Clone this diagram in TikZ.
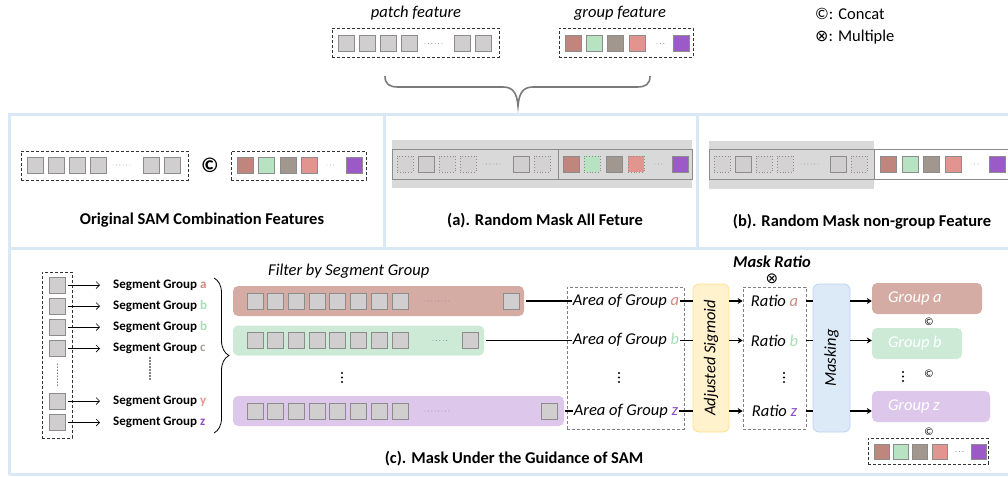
\documentclass[tikz,border=0pt]{standalone}
\usepackage{fontspec}
\setmainfont{Carlito}
\newfontfamily\symfont{DejaVu Sans}
\usetikzlibrary{arrows.meta,decorations.pathreplacing}

\definecolor{sqfill}{HTML}{D0CECE}
\definecolor{sqmask}{HTML}{D4D2D2}
\definecolor{sqline}{HTML}{8C8C8C}
\definecolor{cbrown}{HTML}{C0857C}
\definecolor{cgreen}{HTML}{B7E3C3}
\definecolor{ctaupe}{HTML}{A2978E}
\definecolor{csalmon}{HTML}{E2958E}
\definecolor{cpurple}{HTML}{9B5AC8}
\definecolor{rowbrown}{HTML}{D5ACA4}
\definecolor{rowgreen}{HTML}{CDEAD6}
\definecolor{rowpurple}{HTML}{DDC8EB}
\definecolor{frameblue}{HTML}{DAE7F5}
\definecolor{sigfill}{HTML}{FFF2CC}
\definecolor{sigline}{HTML}{FFE08A}
\definecolor{maskfill}{HTML}{DCE9F6}
\definecolor{maskline}{HTML}{BDD4EE}
\definecolor{band}{HTML}{D9D9D9}
\definecolor{bracegray}{HTML}{7A7A7A}
\definecolor{letA}{HTML}{CC8A80}
\definecolor{letB}{HTML}{A8DDB7}
\definecolor{letC}{HTML}{A89E96}
\definecolor{letY}{HTML}{E5958D}
\definecolor{letZ}{HTML}{8C4DC2}

\newcommand\fsz[1]{\fontsize{#1}{#1}\selectfont}
% one feature square: [style]{name}{x}{y}
\newcommand\fsq[4][]{\node[sq,#1] (#2) at (#3,#4) {};}
% a vertical ellipsis of three round dots centred at (x,y)
\newcommand\vdotsat[2]{\foreach \dy in {-4.5,0,4.5} \fill (#1,#2+\dy) circle (1.15pt);}

\begin{document}
\begin{tikzpicture}[x=1pt,y=-1pt,
  sq/.style={draw=sqline, fill=sqfill, line width=0.8pt, minimum size=16pt, inner sep=0pt},
  msq/.style={draw=black!45, dotted, fill=sqmask},
  dashbox/.style={draw=black!80, dash pattern=on 3pt off 2pt, line width=0.8pt, inner sep=0pt},
  graybox/.style={draw=black!50, dash pattern=on 3pt off 2pt, line width=0.7pt, inner sep=0pt},
  dotrow/.style={draw=black!50, line width=0.9pt, dash pattern=on 0pt off 3.4pt, line cap=round},
  frame/.style={draw=frameblue, line width=3pt},
  title/.style={font={\fsz{16.5}\bfseries}, inner sep=0pt},
  ital/.style={font={\fsz{16.5}\itshape}, inner sep=1pt},
  seglabel/.style={font={\fsz{13}\bfseries}, anchor=west, inner sep=0pt},
  rowbox/.style={rounded corners=5pt, minimum height=30pt, inner sep=0pt},
  grptext/.style={font={\fsz{16.5}\itshape}, text=white, anchor=west, inner sep=0pt},
  conn/.style={draw=black, line width=1.3pt},
  arr/.style={draw=black, line width=1.3pt, -{Stealth[length=5pt,width=6pt]}},
  thinarr/.style={draw=black, line width=0.7pt, -{Straight Barb[length=3.5pt,width=7pt]}},
  smallc/.style={font={\fsz{11}}, inner sep=0pt}
]
\useasboundingbox (0,0) rectangle (1008,476);
\clip (0,0) rectangle (1008,476);

% ---------------- top: the two kinds of features ----------------
\node[ital] (ptitle) at (416,13) {patch feature};
\node[ital] (gtitle) at (620,13) {group feature};
\node[dashbox, minimum width=167pt, minimum height=29pt] (tpbox) at (415.5,42.5) {};
\node[dashbox, minimum width=134pt, minimum height=29pt] (tgbox) at (626,42.5) {};
\fsq{tp1}{346}{43.5}\fsq{tp2}{367}{43.5}\fsq{tp3}{388}{43.5}\fsq{tp4}{409}{43.5}
\fsq{tp5}{462}{43.5}\fsq{tp6}{483}{43.5}
\draw[dotrow] (425,43.5) -- (442,43.5);
\fsq[fill=cbrown]{tg1}{573}{43.5}\fsq[fill=cgreen]{tg2}{594}{43.5}
\fsq[fill=ctaupe]{tg3}{615}{43.5}\fsq[fill=csalmon]{tg4}{637}{43.5}
\fsq[fill=cpurple]{tg5}{681}{43.5}
\draw[dotrow] (657,43.5) -- (666,43.5);

% legend
\node[anchor=west, font={\fsz{16.5}}, inner sep=0pt] (lgc) at (815,14) {©: Concat};
\node[anchor=west, font={\fsz{16.5}}, inner sep=0pt] (lgm) at (815,37) {{\symfont\fsz{16}⊗}: Multiple};

% brace gathering both features
\draw[bracegray, line width=1.6pt]
  (385,76) .. controls (385,84) and (389,87) .. (398,87) -- (503,87)
  .. controls (512,87) and (517,92) .. (518,106)
  .. controls (519,92) and (524,87) .. (533,87) -- (637,87)
  .. controls (646,87) and (650,84) .. (650,76);

% ---------------- panel frame ----------------
\draw[frame] (9.5,474.5) -- (9.5,114.5) -- (1012,114.5);
\draw[frame] (9.5,248) -- (1012,248);
\draw[frame] (9.5,474.5) -- (1012,474.5);
\draw[frame] (384.5,114.5) -- (384.5,248);
\draw[frame] (697,114.5) -- (697,248);

% ---------------- original combination ----------------
\node[dashbox, minimum width=167pt, minimum height=29pt] (opbox) at (104.5,165.5) {};
\node[dashbox, minimum width=135pt, minimum height=29pt] (ogbox) at (298.5,165.5) {};
\fsq{op1}{35}{165}\fsq{op2}{56}{165}\fsq{op3}{77}{165}\fsq{op4}{98}{165}
\fsq{op5}{151}{165}\fsq{op6}{172}{165}
\draw[dotrow] (113,165) -- (133,165);
\node[font={\fsz{21}\bfseries}, inner sep=0pt] (ocat) at (210,165) {©};
\fsq[fill=cbrown]{og1}{245}{165}\fsq[fill=cgreen]{og2}{266}{165}
\fsq[fill=ctaupe]{og3}{288}{165}\fsq[fill=csalmon]{og4}{309}{165}
\fsq[fill=cpurple]{og5}{354}{165}
\draw[dotrow] (327,165) -- (336,165);
\node[title] (t0) at (202,220) {Original SAM Combination Features};

% ---------------- (a) random mask on all features ----------------
\fill[band] (392,140) rectangle (692,188);
\draw[sqline, line width=1pt] (392,149) rectangle (692,179);
\draw[sqline, line width=1pt] (558,149) -- (558,179);
\fsq[msq]{ap1}{405}{164}\fsq{ap2}{426}{164}\fsq[msq]{ap3}{447}{164}\fsq[msq]{ap4}{468}{164}
\fsq{ap5}{521}{164}\fsq[msq]{ap6}{542}{164}
\draw[dotrow] (483,164) -- (503,164);
\fsq[fill=cbrown]{ag1}{571}{164}\fsq[msq,fill=cgreen]{ag2}{592}{164}
\fsq[fill=ctaupe]{ag3}{614}{164}\fsq[msq,fill=csalmon]{ag4}{636}{164}
\fsq[fill=cpurple]{ag5}{680}{164}
\draw[dotrow] (655,164) -- (664,164);
\node[title] (ta) at (545,221) {(a). Random Mask All Feture};

% ---------------- (b) random mask on patch features only ----------------
\fill[band] (709,141) rectangle (874,189);
\draw[sqline, line width=1pt] (709,149) rectangle (1020,179);
\draw[sqline, line width=1pt] (874,149) -- (874,179);
\fsq[msq]{bp1}{722}{164}\fsq{bp2}{743}{164}\fsq[msq]{bp3}{764}{164}\fsq[msq]{bp4}{785}{164}
\fsq{bp5}{838}{164}\fsq[msq]{bp6}{859}{164}
\draw[dotrow] (801,164) -- (821,164);
\fsq[fill=cbrown]{bg1}{888}{164}\fsq[fill=cgreen]{bg2}{910}{164}
\fsq[fill=ctaupe]{bg3}{931}{164}\fsq[fill=csalmon]{bg4}{953}{164}
\fsq[fill=cpurple]{bg5}{997}{164}
\draw[dotrow] (971,164) -- (980,164);
\node[title] (tb) at (862,222) {(b). Random Mask non-group Feature};

% ---------------- (c) masking guided by SAM ----------------
\node[dashbox, minimum width=30pt, minimum height=166pt] (colbox) at (57,355) {};
\fsq{s1}{57.5}{285}\fsq{s2}{57.5}{306}\fsq{s3}{57.5}{327}\fsq{s4}{57.5}{348.5}
\fsq{s5}{57.5}{401}\fsq{s6}{57.5}{422.5}
\draw[draw=black, line width=1pt, dash pattern=on 0pt off 3pt, line cap=round] (57.5,364) -- (57.5,386);

\node[seglabel] (g1) at (113,285) {Segment Group \textcolor{letA}{a}};
\node[seglabel] (g2) at (113,306) {Segment Group \textcolor{letB}{b}};
\node[seglabel] (g3) at (113,327) {Segment Group \textcolor{letB}{b}};
\node[seglabel] (g4) at (113,348.5) {Segment Group \textcolor{letC}{c}};
\node[seglabel] (g5) at (113,401) {Segment Group \textcolor{letY}{y}};
\node[seglabel] (g6) at (113,422.5) {Segment Group \textcolor{letZ}{z}};
\foreach \i in {1,...,6}
  \draw[thinarr, shorten <=2.5pt, shorten >=13pt] (s\i.east) -- (g\i.west);
\draw[draw=black, line width=1.6pt, dash pattern=on 0pt off 3pt, line cap=round] (150,358) -- (150,381);

\draw[decorate, decoration={brace, amplitude=15pt}, line width=0.8pt] (214,278) -- (214,433);

\node[ital, anchor=west] (filt) at (267,271) {Filter by Segment Group};

\node[rowbox, fill=rowbrown, minimum width=291pt] (rowA) at (378.5,301) {};
\node[rowbox, fill=rowgreen, minimum width=251pt] (rowB) at (358.5,340.5) {};
\node[rowbox, fill=rowpurple, minimum width=331pt] (rowZ) at (398.5,411) {};
\foreach \k in {0,...,7} {
  \node[sq] (ra\k) at (255+20.7*\k,301) {};
  \node[sq] (rb\k) at (255+20.7*\k,340.5) {};
  \node[sq] (rz\k) at (255+20.7*\k,411) {};
}
\fsq{raL}{511}{301}\fsq{rbL}{470}{340.5}\fsq{rzL}{549.5}{411}
\draw[dotrow] (425,301) -- (449,301);
\draw[dotrow] (433,340.5) -- (449,340.5);
\draw[dotrow] (425,411) -- (449,411);
\vdotsat{342}{377.5}

% areas of the groups
\node[graybox, minimum width=117pt, minimum height=142pt] (areabox) at (625.5,358) {};
\node[ital] (arA) at (626,301) {Area of Group \textcolor{letA}{a}};
\node[ital] (arB) at (626,340.5) {Area of Group \textcolor{letB}{b}};
\node[ital] (arZ) at (626,411) {Area of Group \textcolor{letZ}{z}};
\vdotsat{619}{377.5}
\draw[conn, shorten <=2pt] (rowA.east) -- (arA.west);
\draw[conn, shorten <=2pt] (rowB.east) -- (arB.west);
\draw[conn, shorten <=1pt] (rowZ.east) -- (arZ.west);

% adjusted sigmoid
\node[draw=sigline, fill=sigfill, line width=0.8pt, rounded corners=6pt,
      minimum width=36pt, minimum height=148pt, inner sep=0pt]
  (sig) at (711,358) {\rotatebox{90}{\fsz{16.5}\itshape Adjusted Sigmoid}};
\draw[conn] (arA.east) -- (arA.east -| sig.west);
\draw[conn] (arB.east) -- (arB.east -| sig.west);
\draw[conn] (arZ.east) -- (arZ.east -| sig.west);

% mask ratios
\node[font={\fsz{16.5}\bfseries\itshape}, inner sep=0pt] (mratio) at (772,262) {Mask Ratio};
\node[font={\symfont\fsz{15}}, inner sep=0pt] (mul) at (772,279) {⊗};
\node[graybox, minimum width=63pt, minimum height=142pt] (ratbox) at (774.5,358) {};
\node[ital] (raA) at (774.5,301) {Ratio \textcolor{letA}{a}};
\node[ital] (raB) at (774.5,340.5) {Ratio \textcolor{letB}{b}};
\node[ital] (raZ) at (774.5,411) {Ratio \textcolor{letZ}{z}};
\vdotsat{784}{377.5}
\draw[arr] (sig.east |- raA) -- (ratbox.west |- raA);
\draw[arr] (sig.east |- raB) -- (ratbox.west |- raB);
\draw[arr] (sig.east |- raZ) -- (ratbox.west |- raZ);

% masking
\node[draw=maskline, fill=maskfill, line width=0.8pt, rounded corners=6pt,
      minimum width=37pt, minimum height=148pt, inner sep=0pt]
  (mask) at (831.5,358) {\rotatebox{90}{\fsz{16.5}\itshape Masking}};
\draw[conn] (ratbox.east |- raA) -- (mask.west |- raA);
\draw[conn] (ratbox.east |- raB) -- (mask.west |- raB);
\draw[conn] (ratbox.east |- raZ) -- (mask.west |- raZ);

% masked groups
\node[rowbox, fill=rowbrown, minimum width=110pt, minimum height=31pt] (gA) at (927,298.5) {};
\node[rowbox, fill=rowgreen, minimum width=90pt, minimum height=31pt] (gB) at (917,343.5) {};
\node[rowbox, fill=rowpurple, minimum width=118pt, minimum height=31pt] (gZ) at (931,406.5) {};
\node[grptext] (gAt) at ([xshift=16pt]gA.west) {Group a};
\node[grptext] (gBt) at ([xshift=16pt]gB.west) {Group b};
\node[grptext] (gZt) at ([xshift=16pt]gZ.west) {Group z};
\draw[arr] (mask.east |- raA) -- (gA.west |- raA);
\draw[arr] (mask.east |- raB) -- (gB.west |- raB);
\draw[arr] (mask.east |- raZ) -- (gZ.west |- raZ);
\node[smallc] (c1) at (929,322) {©};
\node[smallc] (c2) at (929,374) {©};
\node[smallc] (c3) at (929,432) {©};
\vdotsat{903}{376.5}

% concatenated result
\node[dashbox, minimum width=120pt, minimum height=26pt] (resbox) at (928,451) {};
\fsq[fill=cbrown, minimum size=15pt]{rs1}{881.5}{451.5}
\fsq[fill=cgreen, minimum size=15pt]{rs2}{900.5}{451.5}
\fsq[fill=ctaupe, minimum size=15pt]{rs3}{919.5}{451.5}
\fsq[fill=csalmon, minimum size=15pt]{rs4}{939.5}{451.5}
\fsq[fill=cpurple, minimum size=15pt]{rs5}{978.5}{451.5}
\draw[dotrow] (956,451.5) -- (965,451.5);

\node[title] (tc) at (514,459) {(c). Mask Under the Guidance of SAM};
\end{tikzpicture}
\end{document}
